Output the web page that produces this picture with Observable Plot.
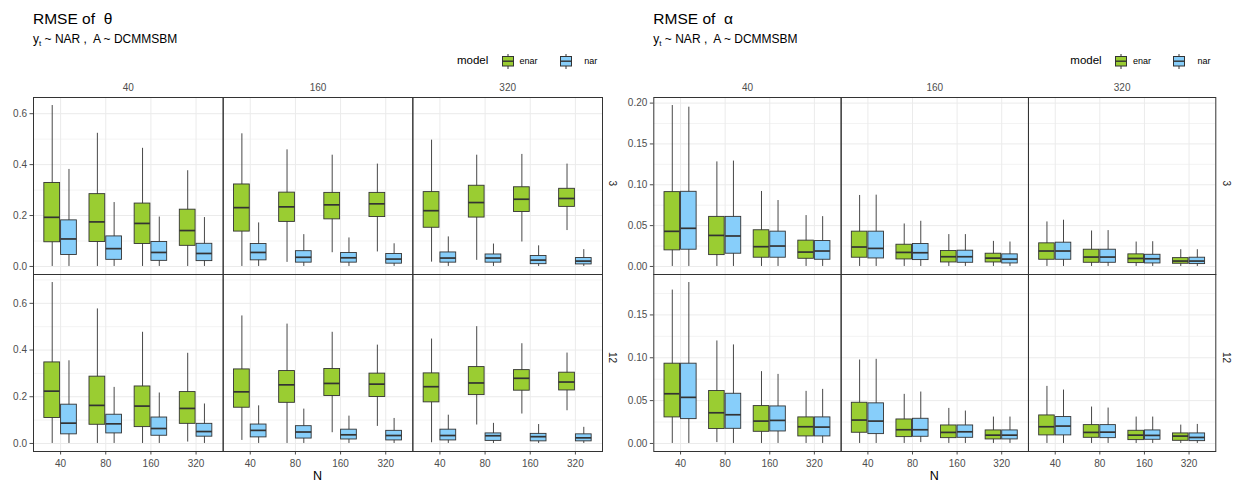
<!DOCTYPE html>
<html>
<head>
<meta charset="utf-8">
<script src="https://cdn.jsdelivr.net/npm/d3@7"></script>
<script src="https://cdn.jsdelivr.net/npm/@observablehq/plot@0.6"></script>
<style>
  html, body { margin: 0; padding: 0; background: #fff; }
  body { font-family: "Liberation Sans", Arial, Helvetica, sans-serif; }
  #root { position: relative; width: 1239px; height: 484px; overflow: hidden; }
  .abs { position: absolute; white-space: pre; line-height: 1; }
  .title { font-size: 15.5px; color: #000; }
  .subtitle { font-size: 12px; color: #000; }
  .subtitle sub { font-size: 8px; vertical-align: -3px; line-height: 0; }
  .leg { font-size: 11.5px; color: #000; }
  .legsm { font-size: 9px; color: #000; }
  .xlab { font-size: 12.5px; color: #000; text-align: center; }
</style>
</head>
<body>
<div id="root"></div>
<script>
// ---------- data ----------
const Ns = ["40", "80", "160", "320"];          // x categories (N)
const colLevels = ["40", "160", "320"];         // column facets
const rowLevels = ["3", "12"];                  // row facets
const modelLevels = ["enar", "nar"];
const modelColors = ["#9ACD32", "#87CEFA"];
const thetaTicks = [0, 0.2, 0.4, 0.6];
const thetaMinor = [0.1, 0.3, 0.5, 0.7];
const alphaTicks = [0, 0.05, 0.10, 0.15, 0.20];
const alphaMinor = [0.025, 0.075, 0.125, 0.175];

// five-number summaries [lower whisker, Q1, median, Q3, upper whisker]
// order: column 40 (N=40,80,160,320), column 160 (N=...), column 320 (N=...)
const thetaRow3Enar = [
  [0, 0.095, 0.193, 0.328, 0.632], [0, 0.096, 0.175, 0.284, 0.523], [0, 0.088, 0.169, 0.247, 0.464], [0, 0.081, 0.141, 0.223, 0.376],
  [0, 0.137, 0.231, 0.322, 0.521], [0.016, 0.175, 0.234, 0.290, 0.458], [0.054, 0.185, 0.242, 0.289, 0.437], [0.057, 0.194, 0.246, 0.289, 0.402],
  [0.017, 0.152, 0.219, 0.292, 0.496], [0.024, 0.192, 0.251, 0.317, 0.437], [0.096, 0.214, 0.264, 0.311, 0.440], [0.141, 0.234, 0.267, 0.305, 0.402]
];
const thetaRow3Nar = [
  [0, 0.045, 0.108, 0.181, 0.381], [0, 0.026, 0.070, 0.118, 0.251], [0, 0.022, 0.055, 0.096, 0.194], [0, 0.021, 0.051, 0.089, 0.192],
  [0, 0.024, 0.055, 0.088, 0.171], [0, 0.015, 0.036, 0.060, 0.125], [0, 0.015, 0.034, 0.053, 0.112], [0, 0.011, 0.029, 0.049, 0.089],
  [0, 0.015, 0.033, 0.055, 0.116], [0, 0.015, 0.033, 0.047, 0.088], [0, 0.009, 0.025, 0.041, 0.081], [0, 0.008, 0.021, 0.033, 0.066]
];
const thetaRow12Enar = [
  [0, 0.109, 0.224, 0.347, 0.689], [0, 0.080, 0.163, 0.286, 0.576], [0, 0.070, 0.160, 0.244, 0.476], [0.006, 0.084, 0.150, 0.220, 0.386],
  [0.013, 0.153, 0.221, 0.317, 0.546], [0, 0.174, 0.251, 0.310, 0.511], [0.046, 0.203, 0.257, 0.319, 0.476], [0.073, 0.199, 0.254, 0.299, 0.421],
  [0.003, 0.176, 0.243, 0.300, 0.447], [0.079, 0.207, 0.259, 0.327, 0.500], [0.126, 0.226, 0.279, 0.314, 0.427], [0.140, 0.227, 0.263, 0.303, 0.387]
];
const thetaRow12Nar = [
  [0, 0.039, 0.087, 0.166, 0.354], [0, 0.043, 0.084, 0.123, 0.240], [0, 0.033, 0.064, 0.111, 0.216], [0, 0.029, 0.051, 0.084, 0.169],
  [0, 0.026, 0.056, 0.081, 0.161], [0, 0.021, 0.049, 0.074, 0.147], [0, 0.017, 0.037, 0.059, 0.117], [0, 0.013, 0.034, 0.054, 0.107],
  [0, 0.013, 0.034, 0.059, 0.121], [0, 0.011, 0.033, 0.043, 0.086], [0, 0.009, 0.029, 0.041, 0.081], [0, 0.009, 0.024, 0.039, 0.069]
];
const alphaRow3Enar = [
  [0, 0.0197, 0.0430, 0.0910, 0.197], [0, 0.0139, 0.0380, 0.0607, 0.128], [0, 0.0107, 0.0242, 0.0443, 0.0918], [0, 0.0094, 0.0176, 0.0316, 0.0623],
  [0, 0.0107, 0.0238, 0.0426, 0.0869], [0, 0.0086, 0.0172, 0.0266, 0.0520], [0, 0.0049, 0.0119, 0.0189, 0.0390], [0, 0.0049, 0.0102, 0.0156, 0.0307],
  [0, 0.0082, 0.0189, 0.0283, 0.0545], [0, 0.0045, 0.0115, 0.0205, 0.0434], [0, 0.0041, 0.0098, 0.0148, 0.0299], [0, 0.0033, 0.0066, 0.0102, 0.0205]
];
const alphaRow3Nar = [
  [0, 0.0205, 0.0467, 0.0914, 0.195], [0, 0.0156, 0.0373, 0.0607, 0.129], [0, 0.0107, 0.0250, 0.0426, 0.0807], [0, 0.0082, 0.0189, 0.0311, 0.0610],
  [0, 0.0098, 0.0221, 0.0426, 0.0873], [0, 0.0078, 0.0168, 0.0275, 0.0553], [0, 0.0045, 0.0119, 0.0193, 0.0390], [0, 0.0037, 0.0090, 0.0148, 0.0299],
  [0, 0.0082, 0.0189, 0.0291, 0.0566], [0, 0.0045, 0.0115, 0.0205, 0.0439], [0, 0.0037, 0.0094, 0.0143, 0.0303], [0, 0.0029, 0.0066, 0.0107, 0.0205]
];
const alphaRow12Enar = [
  [0, 0.0304, 0.0580, 0.0931, 0.179], [0.001, 0.0168, 0.0358, 0.0612, 0.1196], [0, 0.0136, 0.0261, 0.0436, 0.0838], [0, 0.0082, 0.0195, 0.0304, 0.0608],
  [0, 0.0125, 0.0273, 0.0475, 0.0974], [0, 0.0074, 0.0160, 0.0280, 0.0573], [0, 0.0062, 0.0129, 0.0210, 0.0409], [0, 0.0047, 0.0097, 0.0152, 0.0308],
  [0, 0.0094, 0.0195, 0.0327, 0.0666], [0, 0.0066, 0.0129, 0.0214, 0.0425], [0, 0.0039, 0.0097, 0.0148, 0.0308], [0, 0.0031, 0.0086, 0.0117, 0.0214]
];
const alphaRow12Nar = [
  [0, 0.0284, 0.0538, 0.0931, 0.1878], [0, 0.0171, 0.0335, 0.0580, 0.115], [0, 0.0140, 0.0269, 0.0432, 0.0806], [0, 0.0082, 0.0191, 0.0304, 0.0631],
  [0, 0.0109, 0.0261, 0.0468, 0.0982], [0.001, 0.0078, 0.0160, 0.0288, 0.0600], [0, 0.0066, 0.0136, 0.0210, 0.0378], [0, 0.0047, 0.0097, 0.0152, 0.0308],
  [0, 0.0094, 0.0203, 0.0308, 0.0623], [0, 0.0062, 0.0132, 0.0214, 0.0413], [0, 0.0043, 0.0094, 0.0152, 0.0308], [0, 0.0027, 0.0070, 0.0117, 0.0222]
];

// ---------- helpers ----------
function toRows(enar, nar) {
  const rows = [];
  colLevels.forEach((col, ci) => Ns.forEach((N, ni) => {
    [[modelLevels[0], enar], [modelLevels[1], nar]].forEach(([model, arr]) => {
      const [lo, q1, med, q3, hi] = arr[ci * Ns.length + ni];
      rows.push({col, N, model, lo, q1, med, q3, hi});
    });
  }));
  return rows;
}
function yDomain(rows) {
  const mx = d3.max(rows, d => d.hi), mn = d3.min(rows, d => d.lo), r = mx - mn;
  return [mn - 0.05 * r, mx + 0.05 * r];
}

const PI = 0.28, PO = 0.24;
const FONT = '"Liberation Sans", Arial, Helvetica, sans-serif';

function facetRow({rows, width, ml, mr, isTop, rowLabel, ticks, minor, fmt}) {
  const frameH = 177;
  const mt = isTop ? 21 : 0;
  const mb = isTop ? 0 : 33;
  const fw = (width - ml - mr) / colLevels.length;
  const step = fw / (Ns.length - PI + 2 * PO);
  const bw = step * (1 - PI);
  const half = bw / 2 + 0.5;
  const isEnar = d => d.model === modelLevels[0];
  const isNar = d => d.model === modelLevels[1];
  const dom = yDomain(rows);
  const inDom = v => v >= dom[0] && v <= dom[1];
  const majorIn = ticks.filter(inDom);
  const minorIn = minor.filter(inDom);
  const boxStroke = "#333333";
  return Plot.plot({
    width, height: mt + frameH + mb,
    marginLeft: ml, marginRight: mr, marginTop: mt, marginBottom: mb,
    style: {background: "transparent", overflow: "visible", fontFamily: FONT, fontSize: "10px", color: "#4d4d4d", display: "block"},
    facet: {data: rows, x: "col"},
    fx: {domain: colLevels, padding: 0, round: false, axis: isTop ? "top" : null, tickSize: 0, tickPadding: 6.5, label: null},
    x: {type: "band", domain: Ns, paddingInner: PI, paddingOuter: PO, align: 0.5, round: false,
        axis: isTop ? null : "bottom", tickSize: 3.5, tickPadding: 4.5, label: null},
    y: {domain: dom, ticks: majorIn, tickFormat: fmt, tickSize: 3.5, tickPadding: 3, label: null},
    marks: [
      Plot.ruleY(minorIn, {stroke: "#ebebeb", strokeWidth: 0.6}),
      Plot.ruleY(majorIn, {stroke: "#ebebeb", strokeWidth: 1}),
      Plot.ruleX(Ns, {x: d => d, stroke: "#ebebeb", strokeWidth: 1}),
      // whiskers
      Plot.ruleX(rows, {filter: isEnar, x: "N", y1: "lo", y2: "hi", dx: -bw / 4 - 0.25, stroke: boxStroke, strokeWidth: 0.9}),
      Plot.ruleX(rows, {filter: isNar, x: "N", y1: "lo", y2: "hi", dx: bw / 4 + 0.25, stroke: boxStroke, strokeWidth: 0.9}),
      // boxes
      Plot.rectY(rows, {filter: isEnar, x: "N", y1: "q1", y2: "q3", insetRight: half, fill: modelColors[0], stroke: boxStroke, strokeWidth: 0.9}),
      Plot.rectY(rows, {filter: isNar, x: "N", y1: "q1", y2: "q3", insetLeft: half, fill: modelColors[1], stroke: boxStroke, strokeWidth: 0.9}),
      // medians
      Plot.tickY(rows, {filter: isEnar, x: "N", y: "med", insetRight: half, stroke: boxStroke, strokeWidth: 1.7}),
      Plot.tickY(rows, {filter: isNar, x: "N", y: "med", insetLeft: half, stroke: boxStroke, strokeWidth: 1.7}),
      Plot.frame({stroke: "#333333", strokeWidth: 1}),
      // right-hand strip label
      Plot.text(rows, {filter: d => d.col === colLevels[colLevels.length - 1] && d.N === Ns[0] && d.model === modelLevels[0],
        text: () => rowLabel, frameAnchor: "right", dx: 10, rotate: 90, fill: "#1a1a1a", fontSize: 10})
    ]
  });
}

function legendKey(color) {
  return `<svg width="12" height="15" style="display:block">
    <line x1="6" x2="6" y1="0" y2="15" stroke="#333" stroke-width="1"/>
    <rect x="0.5" y="2.5" width="11" height="9.5" fill="${color}" stroke="#333" stroke-width="1"/>
    <line x1="0.5" x2="11.5" y1="7.2" y2="7.2" stroke="#333" stroke-width="1.4"/>
  </svg>`;
}

const root = document.getElementById("root");
function addDiv(cls, left, top, html, extra) {
  const d = document.createElement("div");
  d.className = "abs " + cls;
  d.style.left = left + "px";
  d.style.top = top + "px";
  if (extra) Object.assign(d.style, extra);
  d.innerHTML = html;
  root.appendChild(d);
  return d;
}

function panel({left, width, ml, mr, title, rows3, rows12, ticks, minor, fmt}) {
  const frameL = left + ml, frameR = left + width - mr;
  addDiv("title", frameL, 10.5, title);
  addDiv("subtitle", frameL, 33, "y<sub>t</sub> ~ NAR ,  A ~ DCMMSBM");
  // legend (right-aligned to the panel frame)
  addDiv("leg", frameR - 145, 54.5, "model");
  addDiv("", frameR - 100.5, 54, legendKey(modelColors[0]));
  addDiv("legsm", frameR - 82.4, 57.3, modelLevels[0]);
  addDiv("", frameR - 42, 54, legendKey(modelColors[1]));
  addDiv("legsm", frameR - 17.7, 57.3, modelLevels[1]);

  const p1 = facetRow({rows: rows3, width, ml, mr, isTop: true, rowLabel: rowLevels[0], ticks, minor, fmt});
  const w1 = document.createElement("div");
  w1.style.cssText = `position:absolute;left:${left}px;top:76px;`;
  w1.appendChild(p1); root.appendChild(w1);

  const p2 = facetRow({rows: rows12, width, ml, mr, isTop: false, rowLabel: rowLevels[1], ticks, minor, fmt});
  const w2 = document.createElement("div");
  w2.style.cssText = `position:absolute;left:${left}px;top:274px;`;
  w2.appendChild(p2); root.appendChild(w2);

  addDiv("xlab", frameL, 469.5, "N", {width: (frameR - frameL) + "px"});
}

panel({left: 0, width: 620, ml: 33, mr: 18, title: "RMSE of  θ",
  rows3: toRows(thetaRow3Enar, thetaRow3Nar), rows12: toRows(thetaRow12Enar, thetaRow12Nar),
  ticks: thetaTicks, minor: thetaMinor, fmt: d3.format(".1f")});
panel({left: 620, width: 619, ml: 33.3, mr: 23.7, title: "RMSE of  α",
  rows3: toRows(alphaRow3Enar, alphaRow3Nar), rows12: toRows(alphaRow12Enar, alphaRow12Nar),
  ticks: alphaTicks, minor: alphaMinor, fmt: d3.format(".2f")});
</script>
</body>
</html>
